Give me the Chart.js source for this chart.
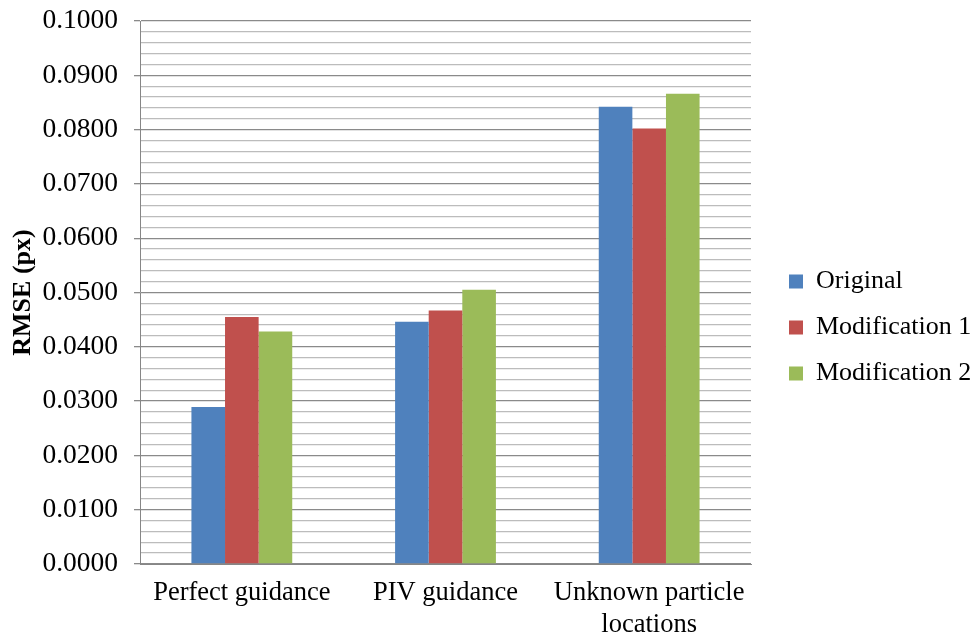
<!DOCTYPE html>
<html>
<head>
<meta charset="utf-8">
<script src="https://cdn.jsdelivr.net/npm/chart.js@4"></script>
<style>
  html, body { margin: 0; padding: 0; background: #fff; }
  #wrap { width: 973px; height: 634px; }
</style>
</head>
<body>
<div id="wrap"><canvas id="rmseChart"></canvas></div>
<script>
const categories = ['Perfect guidance', 'PIV guidance', ['Unknown particle', 'locations']];
const seriesNames = ['Original', 'Modification 1', 'Modification 2'];
const original = [0.0289, 0.0446, 0.0842];
const modification1 = [0.0455, 0.0467, 0.0802];
const modification2 = [0.0428, 0.0505, 0.0866];
const colors = ['#4F81BD', '#C0504D', '#9BBB59'];

const serif = '"Liberation Serif", "Times New Roman", serif';
const font = { family: serif, size: 26.5 };
const isMajor = v => Math.abs(Math.round(v * 100) - v * 100) < 1e-6;

// shift the legend a little to the right of the plot edge
const legendNudge = {
  id: 'legendNudge',
  afterLayout(chart) {
    const lg = chart.legend;
    lg.left += 18; lg.right += 18;
  }
};

const ctx = document.getElementById('rmseChart').getContext('2d');
const chart = new Chart(ctx, {
  type: 'bar',
  data: {
    labels: categories,
    datasets: [original, modification1, modification2].map((d, i) => ({
      label: seriesNames[i],
      data: d,
      backgroundColor: colors[i],
      borderWidth: 0,
      categoryPercentage: 0.495,
      barPercentage: 1
    }))
  },
  plugins: [legendNudge],
  options: {
    responsive: true,
    maintainAspectRatio: false,
    animation: false,
    layout: { padding: { top: 21, right: 0, bottom: 0, left: 0 } },
    plugins: {
      tooltip: { enabled: false },
      legend: {
        position: 'right',
        labels: {
          color: '#000',
          font: { family: serif, size: 26 },
          boxWidth: 14,
          boxHeight: 14,
          padding: 20
        }
      }
    },
    scales: {
      x: {
        grid: { display: false, drawTicks: false },
        border: { color: '#868686', width: 1 },
        ticks: { color: '#000', font: font, padding: 13, maxRotation: 0 },
        afterFit: s => { s.height = 70; }
      },
      y: {
        min: 0,
        max: 0.1,
        title: {
          display: true,
          text: 'RMSE (px)',
          color: '#000',
          font: { family: serif, size: 26, weight: 'bold' },
          padding: { top: 8, bottom: 0 }
        },
        border: { color: '#868686', width: 1 },
        grid: {
          color: c => isMajor(c.tick.value) ? '#8a8a8a' : '#bcbcbc',
          lineWidth: 1.3,
          tickLength: 6,
          tickColor: c => isMajor(c.tick.value) ? '#8a8a8a' : 'rgba(0,0,0,0)'
        },
        ticks: {
          stepSize: 0.002,
          autoSkip: false,
          color: '#000',
          font: { family: serif, size: 27.5 },
          padding: 16,
          callback: v => isMajor(v) ? v.toFixed(4) : ''
        },
        afterFit: s => { s.width = 140; s.paddingTop = 0; s.paddingBottom = 0; }
      }
    }
  }
});

// size the right padding so the plot ends at x = 751
chart.options.layout.padding.right = 222 - chart.legend.width;
chart.update();
</script>
</body>
</html>
